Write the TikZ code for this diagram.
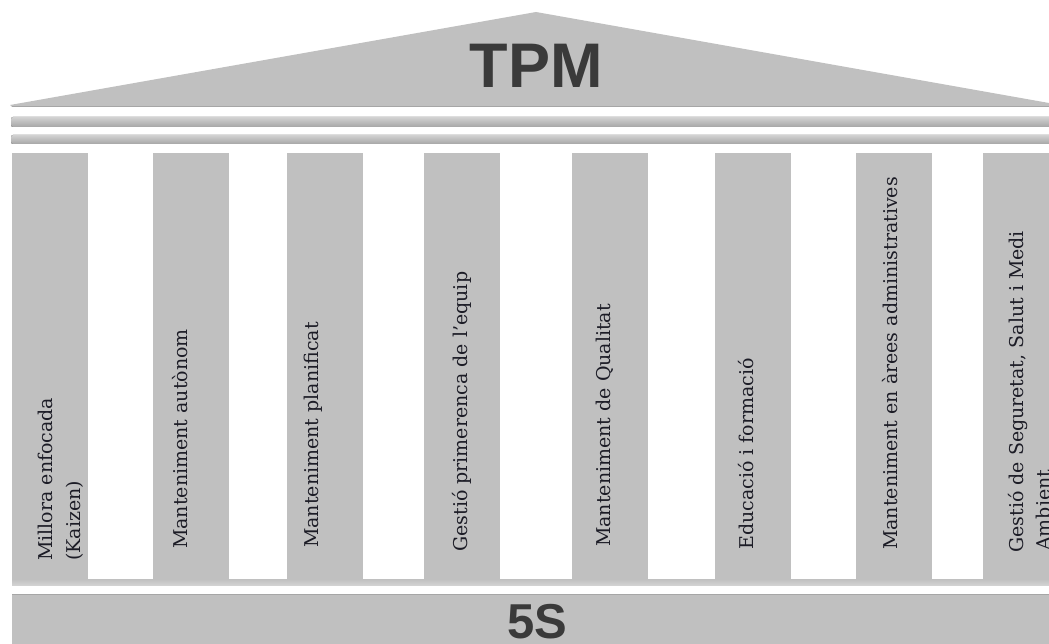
\documentclass[tikz,border=0pt]{standalone}
\usepackage{fontspec}
\setmainfont{DejaVu Serif}
\newfontfamily\headfont{Liberation Sans}
\definecolor{stone}{HTML}{C0C0C0}
\definecolor{stonedark}{HTML}{A6A6A6}
\definecolor{stonelight}{HTML}{D2D2D2}
\definecolor{titlegray}{HTML}{3A3A3A}
\definecolor{inkcol}{HTML}{1C1C26}
\begin{document}
\begin{tikzpicture}[x=1pt,y=-1pt,
  pillar/.style={fill=stone,draw=none},
  bar/.style={top color=stonelight,bottom color=stonedark,draw=none},
  ptext/.style={rotate=90,anchor=base west,inner sep=0pt,text=inkcol,font=\fontsize{19}{24}\selectfont},
  title/.style={inner sep=0pt,text=titlegray,font=\headfont\bfseries}]
\useasboundingbox (0,0) rectangle (1049,644);
% roof
\fill[stone] (10,105) -- (536,12) -- (1049,103) -- (1049,107) -- (12,107) -- cycle;
\draw[stonedark,line width=1.5pt] (12,106.5) -- (1049,106.5);
\node[title,font=\headfont\bfseries\fontsize{63}{63}\selectfont,anchor=base] (tpm) at (536,88) {TPM};
% entablature bars
\fill[bar,rounded corners=2pt] (11,117) rectangle (1052,127);
\fill[bar,rounded corners=2pt] (11,135) rectangle (1052,144);
% pillars
\fill[pillar] (12,153) rectangle (88,580);
\fill[pillar] (153,153) rectangle (229,580);
\fill[pillar] (287,153) rectangle (363,580);
\fill[pillar] (424,153) rectangle (500,580);
\fill[pillar] (572,153) rectangle (648,580);
\fill[pillar] (715,153) rectangle (791,580);
\fill[pillar] (856,153) rectangle (932,580);
\fill[pillar] (983,153) rectangle (1052,580);
% thin plinth strip
\fill[top color=stone,bottom color=stonelight] (12,579) rectangle (1052,585);
% base
\fill[stone] (12,594) rectangle (1052,648);
\draw[stonedark,line width=1pt] (12,594.5) -- (1052,594.5);
\node[title,font=\headfont\bfseries\fontsize{49}{49}\selectfont,anchor=base] (fives) at (537,638) {5S};
% pillar texts
\node[ptext] (t1a) at (52,561) {Millora enfocada};
\node[ptext] (t1b) at (80,561) {(Kaizen)};
\node[ptext] (t2) at (187,549) {Manteniment autònom};
\node[ptext] (t3) at (318,548) {Manteniment planificat};
\node[ptext] (t4) at (467,552) {Gestió primerenca de l'equip};
\node[ptext] (t5) at (610,547) {Manteniment de Qualitat};
\node[ptext] (t6) at (753,550) {Educació i formació};
\node[ptext] (t7) at (897,550) {Manteniment en àrees administratives};
\node[ptext] (t8a) at (1023,553) {Gestió de Seguretat, Salut i Medi};
\node[ptext] (t8b) at (1050,551) {Ambient};
\end{tikzpicture}
\end{document}
